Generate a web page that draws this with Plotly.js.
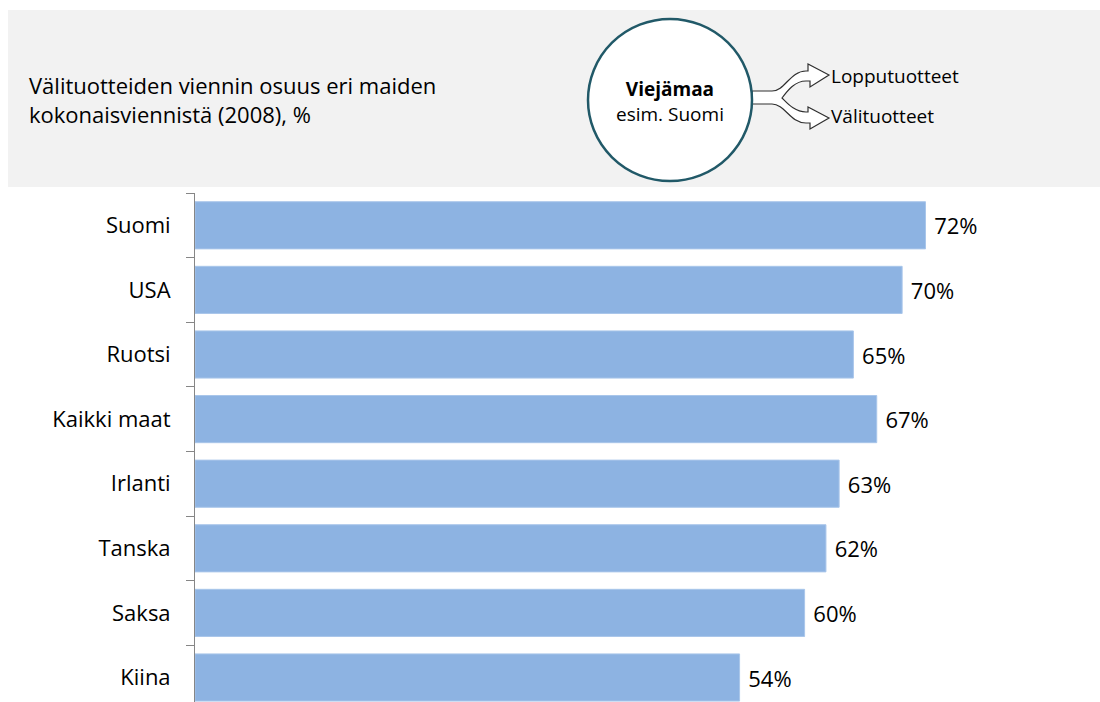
<!DOCTYPE html>
<html>
<head>
<meta charset="utf-8">
<script src="https://cdn.plot.ly/plotly-3.0.1.min.js"></script>
<style>
html,body{margin:0;padding:0;background:#fff;}
#chart{width:1100px;height:702px;}
</style>
</head>
<body>
<div id="chart"></div>
<script>
// ---- data ----
const countries = ["Suomi", "USA", "Ruotsi", "Kaikki maat", "Irlanti", "Tanska", "Saksa", "Kiina"];
const shares = [71.9, 69.6, 64.8, 67.1, 63.4, 62.1, 60.0, 53.6];
const titleText = "Välituotteiden viennin osuus eri maiden<br>kokonaisviennistä (2008), %";
const circleText = "<b>Viejämaa</b><br>esim. Suomi";
const branchLabels = ["Lopputuotteet", "Välituotteet"];

// ---- layout geometry (pixels) ----
const W = 1100, H = 702;
const ML = 195, MT = 193;
const PW = W - ML, PH = H - MT;
const px = x => (x - ML) / PW;
const py = y => (H - y) / PH;

function pathFromPx(cmds) {
  return cmds.map(c => {
    const [op, ...nums] = c;
    const out = [];
    for (let i = 0; i < nums.length; i += 2) {
      out.push(px(nums[i]).toFixed(5) + "," + py(nums[i + 1]).toFixed(5));
    }
    return op + " " + out.join(" ");
  }).join(" ") + " Z";
}

const arrowPath = pathFromPx([
  ["M", 752, 91],
  ["L", 772, 91],
  ["C", 785, 91, 790, 71, 806, 71],
  ["L", 808, 71],
  ["L", 808, 64],
  ["L", 829, 75],
  ["L", 810, 87],
  ["L", 810, 81],
  ["L", 806, 81],
  ["C", 795, 81, 788, 90, 782, 98],
  ["C", 788, 104, 795, 112, 806, 112],
  ["L", 808, 112],
  ["L", 808, 107],
  ["L", 829, 118],
  ["L", 810, 129],
  ["L", 810, 123],
  ["L", 806, 123],
  ["C", 790, 123, 785, 104, 772, 104],
  ["L", 752, 104]
]);

const FONT = "Open Sans, Noto Sans, sans-serif";

const trace = {
  type: "bar",
  orientation: "h",
  x: shares,
  y: countries,
  marker: { color: "#8db3e2", line: { color: "#a9c6ea", width: 1 } },
  texttemplate: "\u00a0%{x:.0f}%",
  textposition: "outside",
  constraintext: "none",
  cliponaxis: false,
  textfont: { family: FONT, size: 22, color: "#000" },
  hoverinfo: "skip"
};

const layout = {
  width: W, height: H,
  margin: { l: ML, r: 0, t: MT, b: 0, pad: 0 },
  paper_bgcolor: "#ffffff",
  plot_bgcolor: "#ffffff",
  showlegend: false,
  bargap: 0.27,
  font: { family: FONT, size: 22, color: "#000" },
  xaxis: { visible: false, range: [0, PW / 10.16], fixedrange: true },
  yaxis: {
    type: "category",
    range: [-0.5 + PH / 64.6, -0.5],
    showline: true, linecolor: "#868686", linewidth: 1,
    ticks: "outside", tickson: "boundaries", ticklen: 8, tickcolor: "#868686", tickwidth: 1,
    showgrid: false, zeroline: false,
    ticklabelstandoff: 19,
    tickfont: { family: FONT, size: 22, color: "#000" },
    fixedrange: true
  },
  shapes: [
    { type: "rect", xref: "paper", yref: "paper", layer: "below",
      x0: px(8), x1: px(1100), y0: py(187), y1: py(10),
      fillcolor: "#f2f2f2", line: { width: 0 } },
    { type: "path", xref: "paper", yref: "paper", path: arrowPath,
      fillcolor: "#ffffff", line: { color: "#303030", width: 1.2 } },
    { type: "circle", xref: "paper", yref: "paper",
      x0: px(588), x1: px(752), y0: py(181), y1: py(19),
      fillcolor: "#ffffff", line: { color: "#215968", width: 2.5 } }
  ],
  annotations: [
    { xref: "paper", yref: "paper", x: px(27), y: py(99), xanchor: "left", yanchor: "middle",
      align: "left", showarrow: false, text: titleText,
      font: { family: FONT, size: 22, color: "#000" } },
    { xref: "paper", yref: "paper", x: px(670), y: py(102), xanchor: "center", yanchor: "middle",
      align: "center", showarrow: false, text: circleText,
      font: { family: FONT, size: 19, color: "#000" } },
    { xref: "paper", yref: "paper", x: px(829), y: py(76), xanchor: "left", yanchor: "middle",
      showarrow: false, text: branchLabels[0],
      font: { family: FONT, size: 19, color: "#000" } },
    { xref: "paper", yref: "paper", x: px(829), y: py(116), xanchor: "left", yanchor: "middle",
      showarrow: false, text: branchLabels[1],
      font: { family: FONT, size: 19, color: "#000" } }
  ]
};

Plotly.newPlot("chart", [trace], layout, { displayModeBar: false, staticPlot: true });
</script>
</body>
</html>
